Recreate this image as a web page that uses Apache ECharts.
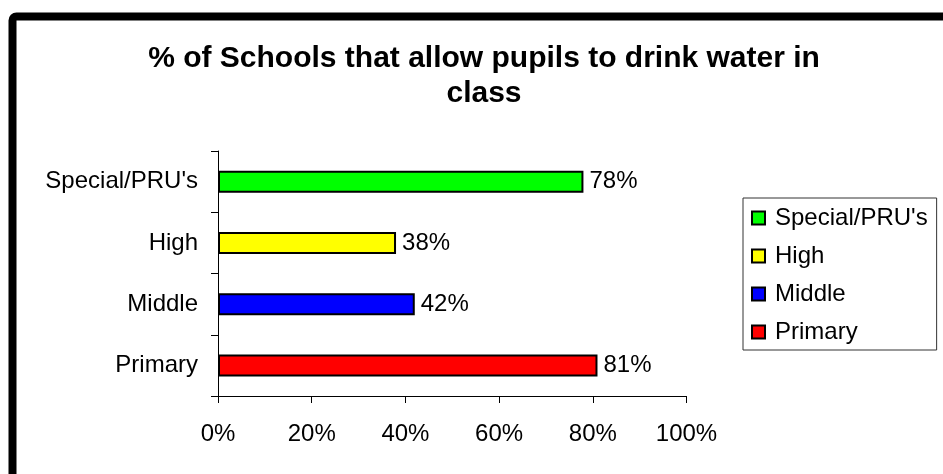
<!DOCTYPE html>
<html>
<head>
<meta charset="utf-8">
<script src="https://cdn.jsdelivr.net/npm/echarts@6/dist/echarts.min.js"></script>
<style>
  html, body { margin: 0; padding: 0; background: #fff; }
  #chart { width: 943px; height: 474px; }
</style>
</head>
<body>
<div id="chart"></div>
<script>
// School types, bottom to top on the category axis
const categories = ['Primary', 'Middle', 'High', "Special/PRU's"];
// Percentage of schools in each type that allow drinking water in class
const values = [81, 42, 38, 78];
const barColors = ['#ff0000', '#0000ff', '#ffff00', '#00ff00'];
const legendOrder = ["Special/PRU's", 'High', 'Middle', 'Primary'];
const xTicks = [0, 20, 40, 60, 80, 100];

const FONT = 'Arial, "Liberation Sans", sans-serif';

// One stacked series per school type so each bar gets its own legend entry
const series = categories.map((name, i) => ({
  name: name,
  type: 'bar',
  stack: 'all',
  barWidth: 22,
  data: categories.map((c, j) => (j === i ? values[i] : '-')),
  itemStyle: { color: barColors[i], borderColor: '#000', borderWidth: 2 },
  label: {
    show: true,
    position: 'right',
    distance: 6,
    formatter: '{c}%',
    fontFamily: FONT,
    fontSize: 24,
    color: '#000'
  },
  emphasis: { disabled: true }
}));

const chart = echarts.init(document.getElementById('chart'), null, { renderer: 'canvas' });
chart.setOption({
  animation: false,
  backgroundColor: '#fff',
  title: {
    text: '% of Schools that allow pupils to drink water in\nclass',
    left: 484,
    top: 41,
    padding: 0,
    textAlign: 'center',
    textStyle: {
      fontFamily: FONT,
      fontWeight: 'bold',
      fontSize: 30,
      lineHeight: 35,
      color: '#000'
    }
  },
  graphic: [{
    type: 'rect',
    silent: true,
    z: 100,
    shape: { x: 12.5, y: 16.5, width: 1100, height: 700, r: 4 },
    style: { fill: null, stroke: '#000', lineWidth: 8 }
  }],
  legend: {
    data: legendOrder,
    orient: 'vertical',
    left: 743,
    top: 198,
    padding: [8, 9, 6, 8],
    itemWidth: 13,
    itemHeight: 13,
    itemGap: 14,
    borderColor: '#333',
    borderWidth: 1,
    icon: 'rect',
    itemStyle: { borderColor: '#000', borderWidth: 2 },
    textStyle: {
      fontFamily: FONT,
      fontSize: 24,
      lineHeight: 24,
      color: '#000',
      padding: [0, 0, 0, 5]
    },
    selectedMode: false
  },
  grid: { left: 218, top: 151, width: 468.5, height: 245, containLabel: false },
  xAxis: {
    type: 'value',
    min: xTicks[0],
    max: xTicks[xTicks.length - 1],
    interval: xTicks[1] - xTicks[0],
    axisLine: { show: true, lineStyle: { color: '#000', width: 1 } },
    axisTick: { show: true, length: 7, lineStyle: { color: '#000' } },
    splitLine: { show: false },
    axisLabel: {
      formatter: '{value}%',
      margin: 26,
      fontFamily: FONT,
      fontSize: 24,
      color: '#000'
    }
  },
  yAxis: {
    type: 'category',
    data: categories,
    axisLine: { show: true, lineStyle: { color: '#000', width: 1 } },
    axisTick: { show: true, length: 7, lineStyle: { color: '#000' } },
    axisLabel: {
      margin: 20,
      fontFamily: FONT,
      fontSize: 24,
      color: '#000'
    }
  },
  series: series
});
</script>
</body>
</html>
